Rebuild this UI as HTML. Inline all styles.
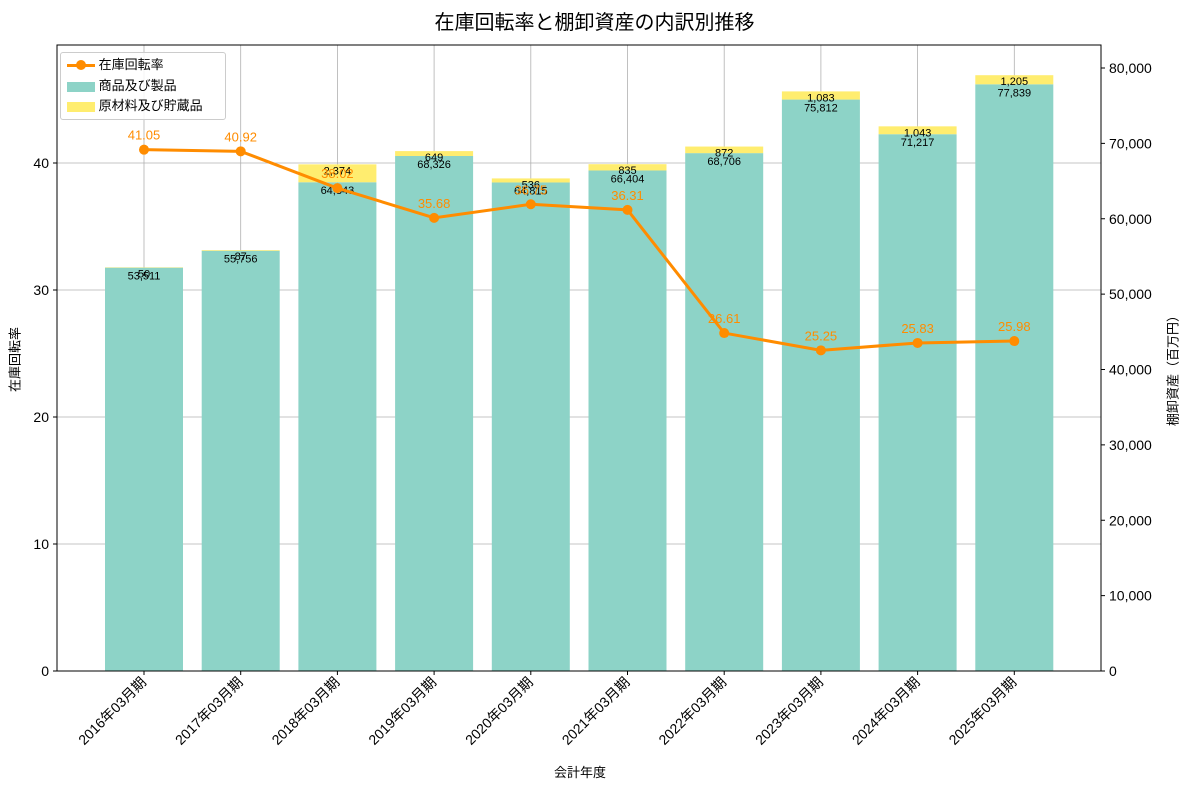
<!DOCTYPE html>
<html><head><meta charset="utf-8"><style>
body{margin:0;background:#fff}
svg{font-family:"Liberation Sans","Noto Sans CJK JP",sans-serif}
</style></head><body>
<svg id="c" width="1189" height="789"></svg>
<script>
const categories=["2016年03月期","2017年03月期","2018年03月期","2019年03月期","2020年03月期","2021年03月期","2022年03月期","2023年03月期","2024年03月期","2025年03月期"];
const products=[53511,55756,64843,68326,64815,66404,68706,75812,71217,77839];
const materials=[50,87,2374,649,536,835,872,1083,1043,1205];
const turnover=[41.05,40.92,38.02,35.68,36.75,36.31,26.61,25.25,25.83,25.98];
const leftTicks=[0,10,20,30,40];
const rightTicks=[0,10000,20000,30000,40000,50000,60000,70000,80000];
const svg=document.getElementById('c');const NS='http://www.w3.org/2000/svg';
function mk(t,a,p){const e=document.createElementNS(NS,t);for(const k in a)e.setAttribute(k,a[k]);(p||svg).appendChild(e);return e;}
const L=57,R=1101,T=45,B=671;
const xc=i=>144+i*96.7;
const yl=v=>B-v*12.7;
const yr=v=>B-v*0.0075375;
const fmt=v=>v.toLocaleString('en-US');
mk('rect',{x:L,y:T,width:R-L,height:B-T,fill:'#fff'});
// grid
leftTicks.forEach(v=>{const g=mk('line',{x1:L,x2:R,y1:yl(v),y2:yl(v),stroke:'#b0b0b0','stroke-width':0.8});

});
categories.forEach((c,i)=>{const g=mk('line',{x1:xc(i),x2:xc(i),y1:T,y2:B,stroke:'#b0b0b0','stroke-width':0.8});

});
// bars
categories.forEach((c,i)=>{
const w=78,x=xc(i)-w/2;
const b1=mk('rect',{x:x,y:yr(products[i]),width:w,height:B-yr(products[i]),fill:'#8dd3c7'});


const b2=mk('rect',{x:x,y:yr(products[i]+materials[i]),width:w,height:yr(products[i])-yr(products[i]+materials[i]),fill:'#ffed6f'});


const t1=mk('text',{x:xc(i),y:yr(products[i])+12,'text-anchor':'middle','font-size':11,fill:'#000'});t1.textContent=fmt(products[i]);


const t2=mk('text',{x:xc(i),y:yr(products[i]+materials[i])+10,'text-anchor':'middle','font-size':11,fill:'#000'});t2.textContent=fmt(materials[i]);


});
// line
const pl=mk('polyline',{points:turnover.map((v,i)=>xc(i)+','+yl(v)).join(' '),fill:'none',stroke:'#ff8c00','stroke-width':3});


turnover.forEach((v,i)=>{
const c=mk('circle',{cx:xc(i),cy:yl(v),r:5,fill:'#ff8c00'});


const t=mk('text',{x:xc(i),y:yl(v)-10,'text-anchor':'middle','font-size':13,fill:'#ff8c00'});t.textContent=v.toFixed(2);


});
mk('rect',{x:L,y:T,width:R-L,height:B-T,fill:'none',stroke:'#000','stroke-width':1});
// left ticks
leftTicks.forEach(v=>{mk('line',{x1:L-4,x2:L,y1:yl(v),y2:yl(v),stroke:'#000'});
const t=mk('text',{x:L-8,y:yl(v)+5,'text-anchor':'end','font-size':14});t.textContent=v;

});
rightTicks.forEach(v=>{mk('line',{x1:R,x2:R+4,y1:yr(v),y2:yr(v),stroke:'#000'});
const t=mk('text',{x:R+8,y:yr(v)+5,'font-size':14});t.textContent=fmt(v);

});
categories.forEach((c,i)=>{mk('line',{x1:xc(i),x2:xc(i),y1:B,y2:B+4,stroke:'#000'});
const t=mk('text',{x:xc(i)+3,y:B+12,'text-anchor':'end','font-size':14,transform:`rotate(-45 ${xc(i)+3} ${B+12})`});t.textContent=c;

});
</script>
<svg width="0" height="0"></svg>
<div style="position:absolute;left:0;top:0;width:1189px;height:789px;pointer-events:none">
<div style="position:absolute;top:6px;left:0;width:1189px;text-align:center;font:20px 'Liberation Sans','Noto Sans CJK JP',sans-serif">在庫回転率と棚卸資産の内訳別推移</div>
<div style="position:absolute;top:762px;left:0;width:1160px;text-align:center;font:13px 'Liberation Sans','Noto Sans CJK JP',sans-serif">会計年度</div>
<div style="position:absolute;left:-26px;top:350px;width:80px;text-align:center;transform:rotate(-90deg);font:13px 'Liberation Sans','Noto Sans CJK JP',sans-serif">在庫回転率</div>
<div style="position:absolute;left:1112px;top:358px;width:120px;text-align:center;transform:rotate(-90deg);font:13px 'Liberation Sans','Noto Sans CJK JP',sans-serif">棚卸資産（百万円）</div>
<div style="position:absolute;left:60px;top:52px;width:164px;height:66px;border:1px solid #ccc;border-radius:3px;background:rgba(255,255,255,.85);font:13px 'Liberation Sans','Noto Sans CJK JP',sans-serif">
<div style="position:absolute;left:6px;top:3px;height:18px;line-height:18px"><span style="display:inline-block;width:28px;height:3px;background:#ff8c00;vertical-align:middle;position:relative"><span style="position:absolute;left:9px;top:-4px;width:10px;height:10px;border-radius:50%;background:#ff8c00"></span></span> 在庫回転率</div>
<div style="position:absolute;left:6px;top:24px;height:18px;line-height:18px"><span style="display:inline-block;width:28px;height:10px;background:#8dd3c7;vertical-align:middle"></span> 商品及び製品</div>
<div style="position:absolute;left:6px;top:44px;height:18px;line-height:18px"><span style="display:inline-block;width:28px;height:10px;background:#ffed6f;vertical-align:middle"></span> 原材料及び貯蔵品</div>
</div></div>
</body></html>
